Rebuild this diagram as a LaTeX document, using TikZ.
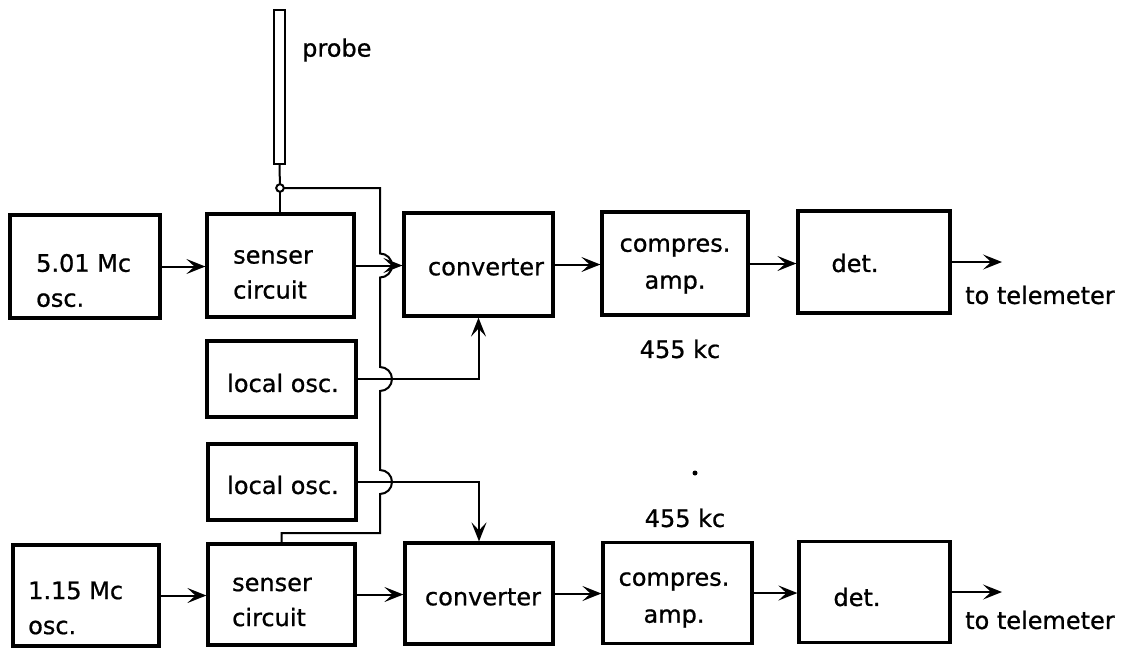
\documentclass[tikz,border=0pt]{standalone}
\usepackage{fontspec}
\setmainfont{DejaVu Sans}[FakeBold=0.8]
\usetikzlibrary{arrows.meta}
\tikzset{
  box/.style={draw, line width=3.2pt, inner sep=0pt},
  txt/.style={font=\fontsize{24}{35}\selectfont, inner sep=0pt, align=left},
  txtc/.style={font=\fontsize{24}{37}\selectfont, inner sep=0pt, align=center},
  wire/.style={line width=2pt},
  arr/.style={wire, -{Stealth[length=19pt,width=15pt,inset=8pt]}},
}
\begin{document}
\begin{tikzpicture}[x=1pt,y=-1pt]
\useasboundingbox (0,0) rectangle (1121,648);
% boxes
\node[box, minimum width=150, minimum height=103] (osc1) at (85,266.5) {};
\node[box, minimum width=147, minimum height=103] (sen1) at (280.5,265.5) {};
\node[box, minimum width=149, minimum height=103] (conv1) at (478.5,264.5) {};
\node[box, minimum width=146, minimum height=103] (comp1) at (675,263.5) {};
\node[box, minimum width=152, minimum height=102] (det1) at (874,262) {};
\node[box, minimum width=149, minimum height=76] (lo1) at (281.5,379) {};
\node[box, minimum width=148, minimum height=76] (lo2) at (282,482) {};
\node[box, minimum width=146, minimum height=101] (osc2) at (86,595.5) {};
\node[box, minimum width=147, minimum height=101] (sen2) at (281.5,594.5) {};
\node[box, minimum width=148, minimum height=101] (conv2) at (479,593.5) {};
\node[box, minimum width=149, minimum height=101] (comp2) at (677.5,593) {};
\node[box, minimum width=151, minimum height=101] (det2) at (874.5,592) {};
% probe
\node[draw, line width=2.2pt, inner sep=0pt, minimum width=11, minimum height=154] (probe) at (279.5,87) {};
\node[txt, anchor=west] (probetxt) at (302,50) {probe};
% texts
\node[txt, anchor=west] (t1) at (36,280.5) {5.01 Mc\\osc.};
\node[txt, anchor=west] (t2) at (233,274.5) {senser\\circuit};
\node[txt] (t3) at (486,267) {converter};
\node[txtc] (t4) at (675,266) {compres.\\amp.};
\node[txt] (t5) at (855,263) {det.};
\node[txt] (t6) at (283,383) {local osc.};
\node[txt] (t7) at (283,485) {local osc.};
\node[txt, anchor=west] (t8) at (28,608) {1.15 Mc\\osc.};
\node[txt, anchor=west] (t9) at (232,602) {senser\\circuit};
\node[txt] (t10) at (483,597) {converter};
\node[txtc] (t11) at (674,600) {compres.\\amp.};
\node[txt] (t12) at (857,597) {det.};
\node[txt, anchor=west] (tt1) at (965,295) {to telemeter};
\node[txt, anchor=west] (tt2) at (965,620) {to telemeter};
\node[txt] (k1) at (680,349) {455 kc};
\node[txt] (k2) at (685,518) {455 kc};
\fill (695,473) circle (2.5);
% coordinates
\coordinate (j) at (280,188);
\coordinate (o1) at (1002,262);
\coordinate (o2) at (1002,592);
% probe connection
\draw[wire] (probe.south) -- (j);
\draw[wire] (j) -- (j |- sen1.north);
\draw[wire, fill=white] (j) circle (3.8);
% bus with hops
\draw[wire] (j) ++(3.8,0) -- (380,188) -- (380,253.5)
  arc[start angle=-90, end angle=90, radius=12] -- (380,367)
  arc[start angle=-90, end angle=90, radius=12] -- (380,470)
  arc[start angle=-90, end angle=90, radius=12] -- (380,533) -| (sen2.north);
% signal paths top
\draw[arr] (osc1.east) -- (osc1.east -| sen1.west);
\draw[arr] (sen1.east) -- (sen1.east -| conv1.west);
\draw[arr] (conv1.east) -- (conv1.east -| comp1.west);
\draw[arr] (comp1.east) -- (comp1.east -| det1.west);
\draw[arr] (det1.east) -- (o1);
\draw[arr] (lo1.east) -| (conv1.south);
% signal paths bottom
\draw[arr] (lo2.east) -| (conv2.north);
\draw[arr] (osc2.east) -- (osc2.east -| sen2.west);
\draw[arr] (sen2.east) -- (sen2.east -| conv2.west);
\draw[arr] (conv2.east) -- (conv2.east -| comp2.west);
\draw[arr] (comp2.east) -- (comp2.east -| det2.west);
\draw[arr] (det2.east) -- (o2);
\end{tikzpicture}
\end{document}
